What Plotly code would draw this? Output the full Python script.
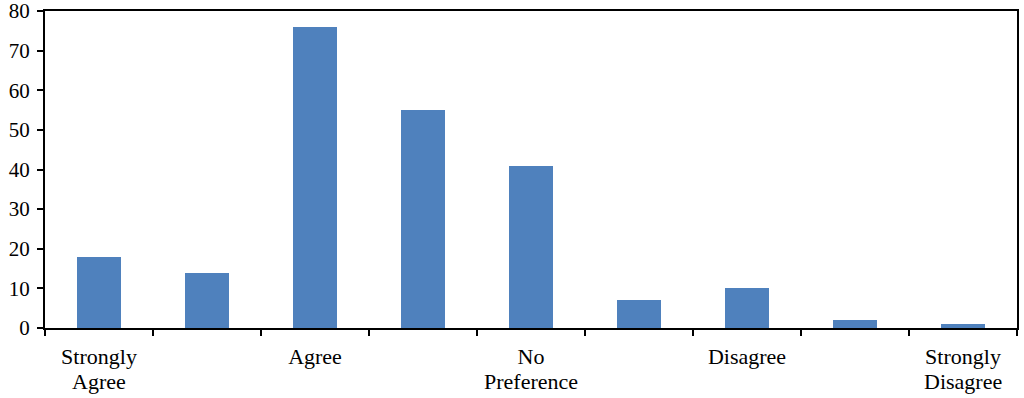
import plotly.graph_objects as go

# Data
positions = [0, 1, 2, 3, 4, 5, 6, 7, 8]
values = [18, 14, 76, 55, 41, 7, 10, 2, 1]
label_positions = [0, 2, 4, 6, 8]
label_line1 = ["Strongly", "Agree", "No", "Disagree", "Strongly"]
label_line2 = ["Agree", "", "Preference", "", "Disagree"]
y_ticks = [0, 10, 20, 30, 40, 50, 60, 70, 80]

FONT = "Liberation Serif, Times New Roman, serif"

fig = go.Figure(go.Bar(
    x=positions, y=values, width=0.4,
    marker=dict(color="#4F81BD", line=dict(width=0)),
))

fig.update_layout(
    width=1024, height=398,
    margin=dict(l=45, r=7, t=11, b=70),
    paper_bgcolor="white", plot_bgcolor="white",
    font=dict(family=FONT, size=21, color="black"),
    showlegend=False,
    bargap=0,
)
fig.update_xaxes(
    range=[-0.5, 8.5], tickmode="array", tickvals=label_positions, ticktext=label_line1,
    ticks="", showgrid=False, zeroline=False, automargin=False,
    showline=True, linecolor="black", linewidth=2, mirror=True,
    minor=dict(tickmode="linear", tick0=-0.5, dtick=1, ticks="outside", ticklen=6,
               tickwidth=2, tickcolor="black", showgrid=False),
    tickfont=dict(family=FONT, size=22), ticklabelstandoff=8,
    ticklabeloverflow="allow",
)
fig.update_yaxes(
    range=[0, 80], tickmode="array", tickvals=y_ticks,
    ticks="outside", ticklen=6, tickwidth=2, tickcolor="black",
    showgrid=False, zeroline=False, automargin=False,
    showline=True, linecolor="black", linewidth=2, mirror=True,
    tickfont=dict(family=FONT, size=21), ticklabelstandoff=3,
    ticklabeloverflow="allow",
)

for xp, txt in zip(label_positions, label_line2):
    if txt:
        fig.add_annotation(x=xp, xref="x", y=0, yref="paper", yshift=-53,
                           yanchor="middle", xanchor="center", showarrow=False,
                           text=txt, font=dict(family=FONT, size=22, color="black"))

fig.write_html("out.html", config={"displayModeBar": False},
               post_script="document.body.style.margin='0';")
